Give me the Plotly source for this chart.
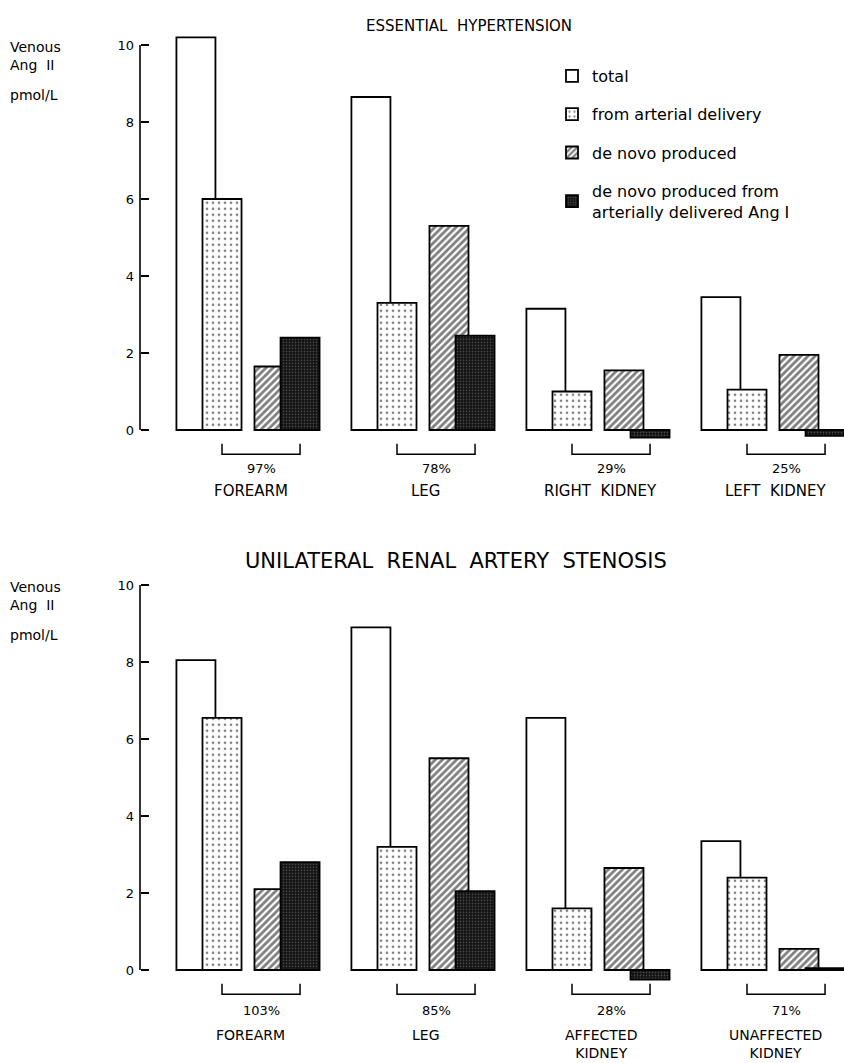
import plotly.graph_objects as go

# ---- data: venous Ang II (pmol/L) by sampling site ----
sites_eh = ["FOREARM", "LEG", "RIGHT  KIDNEY", "LEFT  KIDNEY"]
total_eh = [10.2, 8.65, 3.15, 3.45]
arterial_eh = [6.0, 3.3, 1.0, 1.05]
denovo_eh = [1.65, 5.3, 1.55, 1.95]
denovo_art_eh = [2.4, 2.45, -0.2, -0.15]
pct_eh = ["97%", "78%", "29%", "25%"]

sites_ras = ["FOREARM", "LEG", "AFFECTED<br>KIDNEY", "UNAFFECTED<br>KIDNEY"]
total_ras = [8.05, 8.9, 6.55, 3.35]
arterial_ras = [6.55, 3.2, 1.6, 2.4]
denovo_ras = [2.1, 5.5, 2.65, 0.55]
denovo_art_ras = [2.8, 2.05, -0.25, 0.05]
pct_ras = ["103%", "85%", "28%", "71%"]

y_ticks = [0, 2, 4, 6, 8, 10]

series_names = [
    "total",
    "from arterial delivery",
    "de novo produced",
    "de novo produced from<br>arterially delivered Ang I",
]

# ---- styling / layout constants ----
FONT = "DejaVu Sans"
W, H = 844, 1063
BAR_W = 0.223                      # bar width in group units
CENTER = [0.111, 0.26, 0.557, 0.706]  # bar centres relative to group start
X_RANGE = [-1.0086, 3.8143]
Y_RANGE = [-1.5, 10.5]
AXIS_X = 140 / W

styles = [
    dict(color="white", pattern=dict(shape="")),
    dict(color="white", pattern=dict(shape=".", fgcolor="black", bgcolor="white",
                                     size=6, solidity=0.16)),
    dict(color="white", pattern=dict(shape="/", fgcolor="black", bgcolor="white",
                                     size=5, solidity=0.55)),
    dict(color="#111111", pattern=dict(shape=".", fgcolor="#9a9a9a", bgcolor="#111111",
                                       size=3, solidity=0.25)),
]

fig = go.Figure()

panels = [
    ("x", "y", [total_eh, arterial_eh, denovo_eh, denovo_art_eh], True),
    ("x2", "y2", [total_ras, arterial_ras, denovo_ras, denovo_art_ras], False),
]

for xa, ya, series, show in panels:
    for k, vals in enumerate(series):
        xs = [i + CENTER[k] for i in range(len(vals))]
        fig.add_trace(go.Bar(
            x=xs, y=vals, width=BAR_W, xaxis=xa, yaxis=ya,
            name=series_names[k], legendgroup=f"s{k}", showlegend=show,
            marker=dict(color=styles[k]["color"], pattern=styles[k]["pattern"],
                        line=dict(color="black", width=1.8)),
            hoverinfo="skip",
        ))

shapes = []
annotations = []


def decorate(xref, yref, sites, pcts, pct_y, site_y, site_size):
    # y axis spine from 0 to 10 only
    shapes.append(dict(type="line", xref="paper", yref=yref, x0=AXIS_X, x1=AXIS_X,
                       y0=0, y1=10, line=dict(color="black", width=1.6)))
    for i in range(len(sites)):
        x0 = i + CENTER[1]
        x1 = i + CENTER[3]
        shapes.append(dict(type="path", xref=xref, yref=yref,
                           path=f"M {x0},-0.36 L {x0},-0.63 L {x1},-0.63 L {x1},-0.36",
                           line=dict(color="black", width=1.5)))
        annotations.append(dict(x=(x0 + x1) / 2, y=pct_y, xref=xref, yref=yref,
                                text=pcts[i], showarrow=False,
                                font=dict(family=FONT, size=13, color="black")))
        annotations.append(dict(x=i + 0.425, y=site_y, xref=xref, yref=yref,
                                text=sites[i], showarrow=False, yanchor="top",
                                font=dict(family=FONT, size=site_size, color="black")))


decorate("x", "y", sites_eh, pct_eh, -0.99, -1.3, 15)
decorate("x2", "y2", sites_ras, pct_ras, -1.04, -1.43, 14)

# titles
annotations.append(dict(x=469 / W, y=1 - 15 / H, xref="paper", yref="paper",
                        text="ESSENTIAL  HYPERTENSION", showarrow=False,
                        font=dict(family=FONT, size=15, color="black")))
annotations.append(dict(x=456 / W, y=1 - 561 / H, xref="paper", yref="paper",
                        text="UNILATERAL  RENAL  ARTERY  STENOSIS", showarrow=False,
                        font=dict(family=FONT, size=21, color="black")))

# y axis captions
for top in (46, 586):
    annotations.append(dict(x=8 / W, y=1 - (top - 9) / H, xref="paper", yref="paper",
                            text="Venous<br>Ang  II", showarrow=False,
                            xanchor="left", yanchor="top", align="left",
                            font=dict(family=FONT, size=14, color="black")))
    annotations.append(dict(x=8 / W, y=1 - (top + 49) / H, xref="paper", yref="paper",
                            text="pmol/L", showarrow=False,
                            xanchor="left", yanchor="middle", align="left",
                            font=dict(family=FONT, size=14, color="black")))

axis_common = dict(range=Y_RANGE, tickvals=y_ticks, ticks="inside", ticklen=8,
                   tickwidth=1.5, tickcolor="black", showline=False, showgrid=False,
                   zeroline=False, anchor="free", position=AXIS_X,
                   ticklabelstandoff=6,
                   tickfont=dict(family=FONT, size=13, color="black"))
xaxis_common = dict(range=X_RANGE, visible=False, domain=[0, 1])

fig.update_layout(
    width=W, height=H,
    margin=dict(l=0, r=0, t=0, b=0),
    paper_bgcolor="white", plot_bgcolor="white",
    barmode="overlay",
    xaxis=dict(**xaxis_common, anchor="y"),
    xaxis2=dict(**xaxis_common, anchor="y2"),
    yaxis=dict(**axis_common, domain=[0.54116, 0.97578]),
    yaxis2=dict(**axis_common, domain=[0.03316, 0.46778]),
    shapes=shapes,
    annotations=annotations,
    legend=dict(x=552 / W, y=1 - 59 / H, xanchor="left", yanchor="top",
                bgcolor="rgba(0,0,0,0)", tracegroupgap=14.5, traceorder="grouped",
                font=dict(family=FONT, size=16, color="black")),
    showlegend=True,
)

fig.write_html("out.html")
